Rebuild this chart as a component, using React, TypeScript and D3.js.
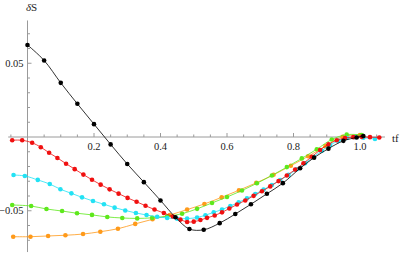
import React from 'react';
import * as d3 from 'd3';

// values (tf, deltaS)
const blackTf = [0, 0.05, 0.1, 0.15, 0.2, 0.25, 0.3, 0.35, 0.4, 0.445, 0.487, 0.53, 0.578, 0.625, 0.672, 0.72, 0.768, 0.82, 0.862, 0.905, 0.95, 0.99, 1.01];
const blackS = [0.0624, 0.0519, 0.0367, 0.0225, 0.0087, -0.005, -0.0183, -0.0306, -0.043, -0.0544, -0.0624, -0.0629, -0.0584, -0.0522, -0.0456, -0.0385, -0.0313, -0.0212, -0.014, -0.0079, -0.0026, -0.0003, 0.0007];

const redTf = [-0.046, -0.016, 0.014, 0.04, 0.065, 0.09, 0.116, 0.142, 0.168, 0.194, 0.22, 0.247, 0.274, 0.301, 0.328, 0.355, 0.382, 0.41, 0.437, 0.46, 0.48, 0.5, 0.52, 0.54, 0.563, 0.585, 0.607, 0.63, 0.655, 0.68, 0.705, 0.73, 0.755, 0.78, 0.805, 0.83, 0.855, 0.88, 0.905, 0.93, 0.955, 0.98, 1.005, 1.03, 1.058];
const redS = [-0.0022, -0.0022, -0.0039, -0.0069, -0.0107, -0.0142, -0.0181, -0.0218, -0.0255, -0.029, -0.0323, -0.0355, -0.0384, -0.0413, -0.0439, -0.0466, -0.0492, -0.0515, -0.0539, -0.056, -0.0576, -0.0574, -0.0563, -0.0548, -0.0532, -0.0511, -0.0485, -0.0458, -0.043, -0.0399, -0.0368, -0.0335, -0.0299, -0.0261, -0.0221, -0.0178, -0.0134, -0.0088, -0.005, -0.0022, -0.0007, -0.0001, 0.0001, -0.0001, -0.0003];

const cyanTf = [-0.042, -0.008, 0.031, 0.067, 0.099, 0.132, 0.164, 0.197, 0.23, 0.262, 0.294, 0.326, 0.358, 0.39, 0.42, 0.45, 0.48, 0.51, 0.535, 0.56, 0.585, 0.61, 0.635, 0.66, 0.685, 0.71, 0.735, 0.76, 0.785, 0.81, 0.835, 0.86, 0.885, 0.91, 0.935, 0.96, 0.985, 1.01, 1.045];
const cyanS = [-0.0258, -0.0264, -0.0291, -0.0319, -0.0354, -0.0382, -0.0409, -0.0434, -0.0456, -0.0479, -0.0498, -0.0515, -0.0529, -0.0541, -0.0549, -0.0554, -0.0553, -0.0546, -0.053, -0.0511, -0.0492, -0.0468, -0.0443, -0.0416, -0.0387, -0.0357, -0.0325, -0.0292, -0.0257, -0.0219, -0.0178, -0.0136, -0.0093, -0.0055, -0.0026, -0.0007, -0.0001, -0.0005, -0.0014];

const greenTf = [-0.046, 0.011, 0.057, 0.104, 0.149, 0.194, 0.24, 0.285, 0.33, 0.375, 0.42, 0.465, 0.51, 0.555, 0.6, 0.645, 0.69, 0.735, 0.78, 0.825, 0.87, 0.915, 0.96, 1.005];
const greenS = [-0.0461, -0.0468, -0.0488, -0.0502, -0.0517, -0.0528, -0.0542, -0.0549, -0.0552, -0.0548, -0.0538, -0.052, -0.0487, -0.0447, -0.0407, -0.0363, -0.0314, -0.0261, -0.0204, -0.0145, -0.0083, -0.0017, 0.0016, 0.0014];

const orangeTf = [-0.043, 0.009, 0.062, 0.114, 0.167, 0.219, 0.272, 0.324, 0.376, 0.428, 0.48, 0.532, 0.584, 0.636, 0.688, 0.74, 0.792, 0.844, 0.896, 0.948, 1.0];
const orangeS = [-0.0676, -0.0676, -0.0671, -0.0666, -0.0658, -0.0642, -0.0622, -0.0589, -0.0558, -0.0529, -0.0492, -0.0454, -0.0409, -0.0361, -0.0311, -0.0256, -0.0195, -0.0131, -0.0062, 0.0002, 0.0014];

const xTicks = [0.2, 0.4, 0.6, 0.8, 1.0];
const yTicks = [0.05, -0.05];

const series = [
  { name: 'orange', color: '#ff9a1a', tf: orangeTf, s: orangeS },
  { name: 'green', color: '#5ee81c', tf: greenTf, s: greenS },
  { name: 'cyan', color: '#22e2f4', tf: cyanTf, s: cyanS },
  { name: 'red', color: '#f01010', tf: redTf, s: redS },
  { name: 'black', color: '#000000', tf: blackTf, s: blackS },
];

const W = 409;
const H = 256;

export default function App() {
  const x = d3.scaleLinear().domain([0, 1]).range([27.5, 360]);
  const y = d3.scaleLinear().domain([0, 0.05]).range([137, 63.25]);

  const line = d3.line<[number, number]>()
    .x(d => x(d[0]))
    .y(d => y(d[1]))
    .curve(d3.curveCatmullRom);

  const axisColor = '#9a9a9a';
  const font = 'Liberation Serif, Times New Roman, Times, serif';

  const xMinor = d3.range(-1, 22).map(i => i * 0.05);
  const yMinor = d3.range(-7, 8).map(i => i * 0.01).filter(v => Math.abs(v) > 1e-9);

  return (
    <div style={{ position: 'absolute', left: 0, top: 0 }}>
      <svg width={W} height={H} style={{ display: 'block', background: '#fff' }}>
        {/* x axis */}
        <line x1={x(-0.058)} x2={x(1.075)} y1={y(0)} y2={y(0)} stroke={axisColor} strokeWidth={1} />
        {xMinor.map(t => {
          const major = Math.abs((t * 5) - Math.round(t * 5)) < 1e-6;
          return (
            <line key={'xt' + t} x1={x(t)} x2={x(t)} y1={y(0)} y2={y(0) - (major ? 4 : 2.5)}
              stroke={axisColor} strokeWidth={1} />
          );
        })}
        {xTicks.map(t => (
          <text key={'xl' + t} x={x(t)} y={y(0) + 13} textAnchor="middle" fontFamily={font} fontSize={10.5} fill="#222">
            {t.toFixed(1)}
          </text>
        ))}
        <text x={392} y={y(0) + 5} fontFamily={font} fontSize={11} fill="#222">tf</text>

        {/* y axis */}
        <line x1={x(0)} x2={x(0)} y1={y(0.079)} y2={y(-0.078)} stroke={axisColor} strokeWidth={1} />
        {yMinor.map(v => {
          const major = Math.abs(Math.abs(v) - 0.05) < 1e-6;
          return (
            <line key={'yt' + v} x1={x(0)} x2={x(0) + (major ? 4 : 2.5)} y1={y(v)} y2={y(v)}
              stroke={axisColor} strokeWidth={1} />
          );
        })}
        {yTicks.map(v => (
          <text key={'yl' + v} x={x(0) - 4} y={y(v) + 3.5} textAnchor="end" fontFamily={font} fontSize={10.5} fill="#222">
            {v < 0 ? '\u2212' + Math.abs(v).toFixed(2) : v.toFixed(2)}
          </text>
        ))}
        <text x={x(0) + 4} y={11} textAnchor="middle" fontFamily={font} fontSize={11} fill="#222">
          <tspan fontStyle="italic">δ</tspan>S
        </text>

        {/* series */}
        {series.map(sr => {
          const pts: [number, number][] = sr.tf.map((t, i) => [t, sr.s[i]]);
          return (
            <g key={sr.name}>
              <path d={line(pts) || ''} fill="none" stroke={sr.color} strokeWidth={1} strokeOpacity={0.8} />
              {pts.map((p, i) => (
                <circle key={i} cx={x(p[0])} cy={y(p[1])} r={2.3} fill={sr.color} />
              ))}
            </g>
          );
        })}
      </svg>
    </div>
  );
}
